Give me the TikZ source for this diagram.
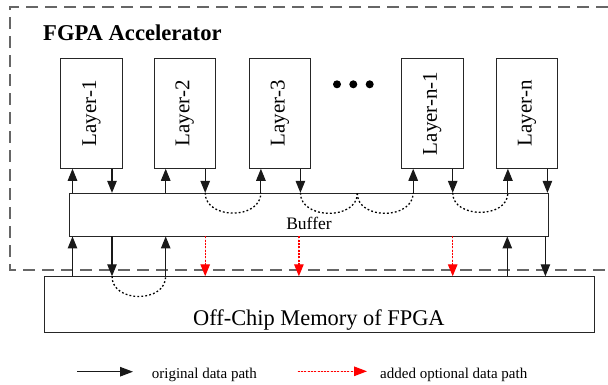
\documentclass[tikz,border=0pt]{standalone}
\usepackage{fontspec}
\setmainfont{Liberation Serif}
\usetikzlibrary{arrows.meta,calc}
\definecolor{pured}{RGB}{255,0,0}
\begin{document}
\begin{tikzpicture}[x=1pt,y=-1pt,
  box/.style={draw=black!85, line width=0.9pt, inner sep=0pt},
  layerbox/.style={box, minimum width=61.5pt, minimum height=110pt},
  layertext/.style={rotate=90, font=\fontsize{21}{21}\selectfont},
  arr/.style={draw=black!90, line width=1.1pt, -{Triangle[length=12pt,width=9.5pt]}},
  redarr/.style={draw=pured, fill=pured, line width=1.3pt, dash pattern=on 2pt off 1.3pt, -{Triangle[length=12pt,width=9.5pt]}},
  loopline/.style={draw=black, line width=1.3pt, dash pattern=on 1.8pt off 2.2pt},
  outer/.style={draw=black!60, line width=1.2pt, dash pattern=on 12pt off 7pt},
  legtext/.style={anchor=base west, inner sep=0pt, font=\fontsize{15}{15}\selectfont}
]
\useasboundingbox (0,0) rectangle (608,384);
\fill[white] (0,0) rectangle (608,384);

% outer dashed region
\draw[outer] (608,7) -- (10,7) -- (10,270) -- (608,270);
\node[anchor=base west, inner sep=0pt, font=\fontsize{22.6}{22.6}\selectfont\bfseries] (title) at (43,40.7) {FGPA Accelerator};

% layers
\node[layerbox] (L1) at (91.5,113.3) {};
\node[layerbox] (L2) at (184.7,113.3) {};
\node[layerbox] (L3) at (279.9,113.3) {};
\node[layerbox] (Lm) at (432.2,113.3) {};
\node[layerbox] (Ln) at (526.9,113.3) {};
\node[layertext] (t1) at (L1) {Layer-1};
\node[layertext] (t2) at (L2) {Layer-2};
\node[layertext] (t3) at (L3) {Layer-3};
\node[layertext] (tm) at (Lm) {Layer-n-1};
\node[layertext] (tn) at (Ln) {Layer-n};

% dots
\fill (337,84.3) circle[radius=4];
\fill (353.3,84.3) circle[radius=4];
\fill (369.7,84.3) circle[radius=4];

% buffer
\node[box, minimum width=479.3pt, minimum height=42.7pt] (buf) at (308.65,214.65) {};
\node[anchor=base, inner sep=0pt, font=\fontsize{17.5}{17.5}\selectfont] (buft) at (309,229.3) {Buffer};

% memory
\node[box, minimum width=550pt, minimum height=55.6pt] (mem) at (319.3,304.5) {};
\node[anchor=base, inner sep=0pt, font=\fontsize{22.4}{22.4}\selectfont] (memt) at (318.9,325) {Off-Chip Memory of FPGA};

% layer <-> buffer
\foreach \L in {L1,L2,L3,Lm,Ln}{
  \draw[arr] ([xshift=-19pt]\L.south |- buf.north) -- ([xshift=-19pt]\L.south);
  \draw[arr] ([xshift=20.5pt]\L.south) -- ([xshift=20.5pt]\L.south |- buf.north);
}

% buffer loops
\coordinate (bmid) at (357.3,193.3);
\draw[loopline] ([xshift=20.5pt]L2.south |- buf.north) .. controls +(0,27) and +(0,27) .. ([xshift=-19pt]L3.south |- buf.north);
\draw[loopline] ([xshift=20.5pt]L3.south |- buf.north) .. controls +(0,27) and +(0,27) .. (bmid);
\draw[loopline] (bmid) .. controls +(0,27) and +(0,27) .. ([xshift=-19pt]Lm.south |- buf.north);
\draw[loopline] ([xshift=20.5pt]Lm.south |- buf.north) .. controls +(0,26) and +(0,26) .. ([xshift=-19pt]Ln.south |- buf.north);

% buffer <-> memory
\draw[arr] ([xshift=-19pt]L1.south |- mem.north) -- ([xshift=-19pt]L1.south |- buf.south);
\draw[arr] ([xshift=20.5pt]L1.south |- buf.south) -- ([xshift=20.5pt]L1.south |- mem.north);
\draw[arr] ([xshift=-19pt]L2.south |- mem.north) -- ([xshift=-19pt]L2.south |- buf.south);
\draw[redarr] ([xshift=20.5pt]L2.south |- buf.south) -- ([xshift=20.5pt]L2.south |- mem.north);
\draw[redarr] ([xshift=19pt]L3.south |- buf.south) -- ([xshift=19pt]L3.south |- mem.north);
\draw[redarr] ([xshift=20.5pt]Lm.south |- buf.south) -- ([xshift=20.5pt]Lm.south |- mem.north);
\draw[arr] ([xshift=-19.6pt]Ln.south |- mem.north) -- ([xshift=-19.6pt]Ln.south |- buf.south);
\draw[arr] ([xshift=18.5pt]Ln.south |- buf.south) -- ([xshift=18.5pt]Ln.south |- mem.north);

% memory loop
\draw[loopline] ([xshift=20.5pt]L1.south |- mem.north) .. controls +(0,27) and +(0,27) .. ([xshift=-19pt]L2.south |- mem.north);

% legend
\coordinate (lga) at (77,371.7);
\coordinate (lgb) at (133,371.7);
\draw[arr, -{Triangle[length=13pt,width=9.5pt]}] (lga) -- (lgb);
\node[legtext] (lgt1) at (151.7,378.5) {original data path};
\coordinate (lgc) at (297.7,371.3);
\coordinate (lgd) at (367,371.3);
\draw[redarr, -{Triangle[length=13pt,width=9.5pt]}] (lgc) -- (lgd);
\node[legtext] (lgt2) at (380,378.5) {added optional data path};
\end{tikzpicture}
\end{document}
